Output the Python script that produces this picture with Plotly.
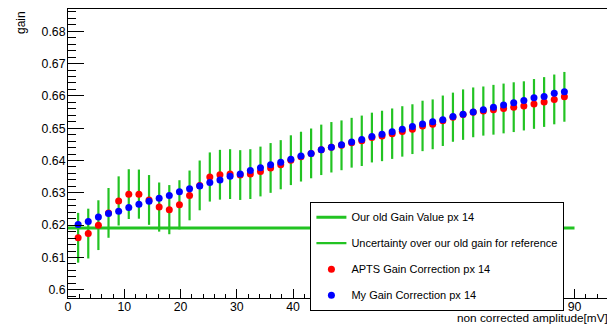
import plotly.graph_objects as go

# ---- data ----
x_amp = [1.8, 3.6, 5.4, 7.2, 9.0, 10.8, 12.6, 14.4, 16.2, 18.0,
         19.8, 21.6, 23.4, 25.2, 27.0, 28.8, 30.6, 32.4, 34.2, 36.0,
         37.8, 39.6, 41.4, 43.2, 45.0, 46.8, 48.6, 50.4, 52.2, 54.0,
         55.8, 57.6, 59.4, 61.2, 63.0, 64.8, 66.6, 68.4, 70.2, 72.0,
         73.8, 75.6, 77.4, 79.2, 81.0, 82.8, 84.6, 86.4, 88.2]

apts_gain = [0.6161, 0.6174, 0.6200, 0.6238, 0.6275, 0.6296, 0.6296, 0.6278, 0.6256, 0.6248,
             0.6263, 0.6292, 0.6323, 0.6349, 0.6356, 0.6358, 0.6355, 0.6358, 0.6366, 0.6377,
             0.6387, 0.6401, 0.6412, 0.6422, 0.6433, 0.6441, 0.6447, 0.6455, 0.6461, 0.6471,
             0.6476, 0.6483, 0.6490, 0.6497, 0.6507, 0.6512, 0.6523, 0.6534, 0.6542, 0.6549,
             0.6553, 0.6557, 0.6561, 0.6565, 0.6569, 0.6575, 0.6581, 0.6589, 0.6597]

my_gain = [0.6202, 0.6211, 0.6225, 0.6236, 0.6243, 0.6255, 0.6265, 0.6274, 0.6283, 0.6292,
           0.6303, 0.6313, 0.6321, 0.6332, 0.6340, 0.6351, 0.6358, 0.6369, 0.6378, 0.6387,
           0.6395, 0.6404, 0.6414, 0.6422, 0.6433, 0.6441, 0.6449, 0.6457, 0.6465, 0.6474,
           0.6481, 0.6489, 0.6497, 0.6505, 0.6513, 0.6520, 0.6526, 0.6536, 0.6543, 0.6550,
           0.6557, 0.6565, 0.6572, 0.6579, 0.6586, 0.6594, 0.6598, 0.6608, 0.6613]

uncertainty = [0.0077, 0.0077, 0.0077, 0.0077, 0.0076, 0.0077, 0.0076, 0.0077, 0.0076, 0.0076,
               0.0076, 0.0077, 0.0077, 0.0076, 0.0077, 0.0077, 0.0077, 0.0077, 0.0077, 0.0077,
               0.0076, 0.0077, 0.0077, 0.0077, 0.0078, 0.0078, 0.0077, 0.0077, 0.0078, 0.0077,
               0.0078, 0.0078, 0.0078, 0.0077, 0.0078, 0.0077, 0.0078, 0.0076, 0.0078, 0.0077,
               0.0076, 0.0077, 0.0077, 0.0077, 0.0076, 0.0077, 0.0077, 0.0077, 0.0077]

old_gain_x = [0, 90]
old_gain_value = 0.6191

names = ["Our old Gain Value px 14",
         "Uncertainty over our old gain for reference",
         "APTS Gain Correction px 14",
         "My Gain Correction px 14"]

x_title = "non corrected amplitude[mV]"
y_title = "gain"

# ---- layout geometry (page pixels; the page body has an 8px default margin) ----
PAGE_W, PAGE_H = 615, 324
OFF = 8
W, H = PAGE_W - OFF, PAGE_H - OFF
# plot frame in page pixels: x 67.5..612.7, y 8.5..298
L = 67.5 - OFF
R = PAGE_W - 612.7
T = 8.5 - OFF
B = PAGE_H - 298
pw, ph = W - L - R, H - T - B


def px_x(page_x):
    return (page_x - OFF - L) / pw


def px_y(page_y):
    return 1 - (page_y - OFF - T) / ph


GREEN = "#22c322"
FONT = "Liberation Sans, Arial, Helvetica, sans-serif"

# error bar segments built from the data
ex, ey = [], []
for xi, yi, ei in zip(x_amp, apts_gain, uncertainty):
    ex += [xi, xi, None]
    ey += [yi - ei, yi + ei, None]

fig = go.Figure()
fig.add_trace(go.Scatter(
    x=old_gain_x, y=[old_gain_value] * len(old_gain_x), mode="lines",
    line=dict(color=GREEN, width=3), name=names[0], legendgroup="g0"))
fig.add_trace(go.Scatter(
    x=ex, y=ey, mode="lines", line=dict(color=GREEN, width=2.2),
    name=names[1], legendgroup="g1", connectgaps=False))
fig.add_trace(go.Scatter(
    x=x_amp, y=apts_gain, mode="markers",
    marker=dict(color="#ff0000", size=7), name=names[2], legendgroup="g2"))
fig.add_trace(go.Scatter(
    x=x_amp, y=my_gain, mode="markers",
    marker=dict(color="#0000ff", size=7), name=names[3], legendgroup="g3"))

axis_common = dict(showgrid=False, zeroline=False, showline=True, linecolor="black",
                   linewidth=1, mirror=True, ticks="inside", tickcolor="black",
                   tickwidth=1, tickfont=dict(family=FONT, size=12.3, color="black"))

fig.update_xaxes(range=[0, 96.84], tick0=0, dtick=10, ticklen=9,
                 ticklabelstandoff=-3,
                 minor=dict(dtick=2, ticklen=4.5, ticks="inside", tickcolor="black"),
                 **axis_common)
fig.update_yaxes(range=[0.59747, 0.68687], tick0=0.6, dtick=0.01, ticklen=16,
                 ticklabelstandoff=-1,
                 minor=dict(dtick=0.002, ticklen=8, ticks="inside", tickcolor="black"),
                 **axis_common)

fig.update_layout(
    width=W, height=H,
    margin=dict(l=L, r=R, t=T, b=B, pad=0, autoexpand=False),
    paper_bgcolor="white", plot_bgcolor="white",
    font=dict(family=FONT, size=11, color="black"),
    showlegend=True,
    legend=dict(x=px_x(310), y=px_y(201.5), xanchor="left", yanchor="top",
                bgcolor="white", bordercolor="black", borderwidth=1,
                font=dict(family=FONT, size=11, color="black"),
                tracegroupgap=7, itemwidth=30),
    annotations=[
        dict(text=y_title, xref="paper", yref="paper", x=px_x(20), y=px_y(8.5),
             xanchor="center", yanchor="top", textangle=-90, showarrow=False,
             font=dict(family=FONT, size=12, color="black")),
        dict(text=x_title, xref="paper", yref="paper", x=px_x(610), y=px_y(318),
             xanchor="right", yanchor="middle", showarrow=False,
             font=dict(family=FONT, size=11.8, color="black")),
    ],
)

fig.write_html("out.html")
